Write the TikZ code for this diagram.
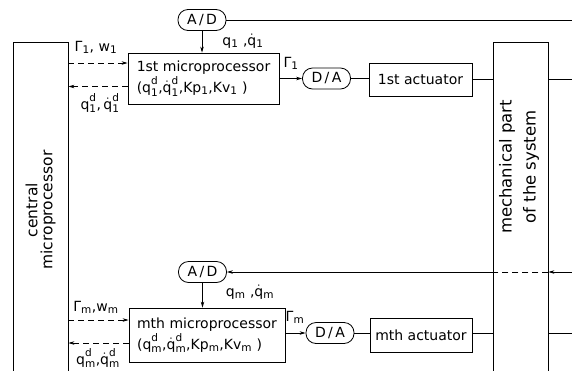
\documentclass[tikz,border=0pt]{standalone}
\usepackage{fontspec}
\setmainfont{DejaVu Sans}
\usetikzlibrary{arrows.meta}
\DeclareMathSizes{14}{14}{10.5}{8}
% symbols with sub- and superscripts
\newcommand\qsd[1]{$\mathrm{q}^{\mathrm{d}}_{\mathrm{#1}}$}
\newcommand\qdsd[1]{$\dot{\mathrm{q}}^{\mathrm{d}}_{\mathrm{#1}}$}
\newcommand\qs[1]{$\mathrm{q}_{\mathrm{#1}}$}
\newcommand\qds[1]{$\dot{\mathrm{q}}_{\mathrm{#1}}$}
\newcommand\lsub[1]{$_{\mathrm{#1}}$}
\begin{document}
\begin{tikzpicture}[x=1pt,y=-1pt,
  every node/.style={font=\fontsize{14}{21}\selectfont, inner sep=0pt},
  ln/.style={line width=0.8pt},
  arr/.style={ln, -{Stealth[length=6pt,width=3.5pt]}},
  dsh/.style={dash pattern=on 6pt off 4pt},
  blk/.style={draw, line width=0.8pt, rectangle},
  conv/.style={draw, line width=0.8pt, rounded corners=10pt,
               minimum width=48pt, minimum height=21pt},
  vtext/.style={rotate=90, align=center}
]
\useasboundingbox (0,0) rectangle (572,370);

% big vertical blocks
\node[blk, minimum width=55pt, minimum height=340pt] (central) at (40.5,212) {};
\node[vtext, font=\fontsize{15.5}{15}\selectfont] (ctext) at (40.5,210) {central\\microprocessor};
\node[blk, minimum width=55pt, minimum height=340pt] (mech) at (520.5,212) {};
\node[vtext, font=\fontsize{16.5}{24}\selectfont] (mtext) at (519,167) {mechanical part\\of the system};

\coordinate (redge) at (580,0);

% first joint
\node[conv] (ad1) at (202,20) {A\,/\,D};
\node[blk, minimum width=151pt, minimum height=51pt, align=left] (mp1) at (203.5,78.5)
  {1st microprocessor\\(\qsd{1},\qdsd{1},Kp\lsub{1},Kv\lsub{1} )};
\node[conv] (da1) at (326.5,78.5) {D\,/\,A};
\node[blk, minimum width=103pt, minimum height=33pt] (act1) at (420.5,79.5) {1st actuator};

\draw[ln] (ad1.east) -- (ad1.east -| redge);
\draw[arr] (ad1.south) -- (ad1.south |- mp1.north);
\draw[arr, dsh] ([yshift=15.5pt]mp1.west -| central.east) -- ([yshift=15.5pt]mp1.west);
\draw[arr, dsh] ([yshift=-8pt]mp1.west) -- ([yshift=-8pt]mp1.west -| central.east);
\draw[arr] (mp1.east) -- (mp1.east -| da1.west);
\draw[ln] (da1.east) -- (da1.east -| act1.west);
\draw[ln] (act1.east) -- (act1.east -| mech.west);
\draw[ln] (act1.east -| mech.east) -- (act1.east -| redge);

\node (l1) at (96,47) {Γ\lsub{1}, w\lsub{1}};
\node (l2) at (100,103) {\qsd{1},\,\qdsd{1}};
\node (l3) at (243,41) {\qs{1} ,\qds{1}};
\node (l4) at (291,63) {Γ\lsub{1}};

% m-th joint
\node[conv] (ad2) at (202.5,272) {A\,/\,D};
\node[blk, minimum width=156pt, minimum height=54pt, align=left] (mp2) at (207,335)
  {mth microprocessor\\(\qsd{m},\qdsd{m},Kp\lsub{m},Kv\lsub{m} )};
\node[conv] (da2) at (330,333) {D\,/\,A};
\node[blk, minimum width=102pt, minimum height=34pt] (act2) at (421,335) {mth actuator};

\draw[arr] (ad2.east -| redge) -- (ad2.east -| mech.east);
\draw[ln, dsh] (ad2.east -| mech.east) -- (ad2.east -| mech.west);
\draw[arr] (ad2.east -| mech.west) -- (ad2.east);
\draw[arr] (ad2.south) -- (ad2.south |- mp2.north);
\draw[arr, dsh] ([yshift=15pt]mp2.west -| central.east) -- ([yshift=15pt]mp2.west);
\draw[arr, dsh] ([yshift=-8pt]mp2.west) -- ([yshift=-8pt]mp2.west -| central.east);
\draw[arr] (da2.west -| mp2.east) -- (da2.west);
\draw[ln] (da2.east) -- (da2.east -| act2.west);
\draw[ln] (da2.east -| act2.east) -- (da2.east -| mech.west);
\draw[ln] (da2.east -| mech.east) -- (da2.east -| redge);

\node (l5) at (96,307) {Γ\lsub{m},w\lsub{m}};
\node (l6) at (98,358) {\qsd{m},\qdsd{m}};
\node (l7) at (250,292) {\qs{m} ,\qds{m}};
\node (l8) at (295,317) {Γ\lsub{m}};
\end{tikzpicture}
\end{document}
